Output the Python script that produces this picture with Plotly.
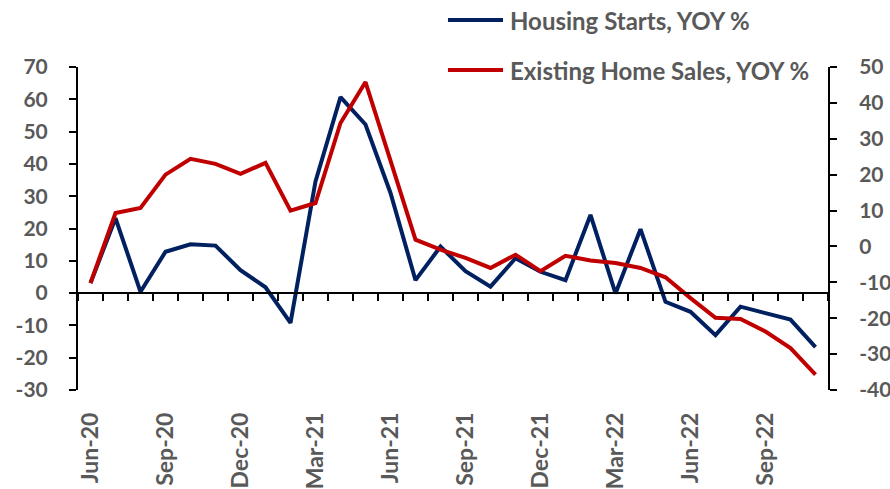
"""Housing starts vs existing home sales, YOY % (dual axis line chart)."""
import plotly.graph_objects as go

months = [
    "Jun-20", "Jul-20", "Aug-20", "Sep-20", "Oct-20", "Nov-20", "Dec-20", "Jan-21",
    "Feb-21", "Mar-21", "Apr-21", "May-21", "Jun-21", "Jul-21", "Aug-21", "Sep-21",
    "Oct-21", "Nov-21", "Dec-21", "Jan-22", "Feb-22", "Mar-22", "Apr-22", "May-22",
    "Jun-22", "Jul-22", "Aug-22", "Sep-22", "Oct-22", "Nov-22",
]
housing_starts = [
    3.1, 23.2, 0.4, 12.8, 15.1, 14.7, 7.1, 1.8, -9.2, 34.6,
    60.7, 52.2, 31.0, 4.0, 14.4, 6.8, 2.0, 10.8, 6.6, 4.0,
    24.2, -0.1, 19.8, -2.7, -5.8, -13.0, -4.2, -6.1, -8.2, -16.7,
]
existing_home_sales = [
    -10.2, 9.3, 10.7, 20.0, 24.4, 23.0, 20.2, 23.3, 10.0, 12.1,
    34.4, 45.8, 23.9, 1.9, -0.9, -3.2, -6.0, -2.3, -6.9, -2.6,
    -3.9, -4.6, -6.0, -8.6, -14.4, -19.9, -20.2, -23.7, -28.3, -35.7,
]
label_months = months[::3]
left_ticks = [-30, -20, -10, 0, 10, 20, 30, 40, 50, 60, 70]
right_ticks = [-40, -30, -20, -10, 0, 10, 20, 30, 40, 50]
series_names = ["Housing Starts, YOY %", "Existing Home Sales, YOY %"]

BLUE = "#002060"
RED = "#C00000"
GREY = "#595959"
FONT = dict(family="Lato", size=24, color=GREY, weight="bold")
TICK_FONT = dict(family="Lato", size=21, color=GREY, weight="bold")

fig = go.Figure()

fig.add_trace(go.Scatter(
    x=months, y=housing_starts, name=series_names[0],
    mode="lines", line=dict(color=BLUE, width=4), showlegend=False,
))
fig.add_trace(go.Scatter(
    x=months, y=existing_home_sales, name=series_names[1],
    mode="lines", line=dict(color=RED, width=4), showlegend=False,
    yaxis="y2",
))
# helper trace so the zero-line category axis gets drawn
fig.add_trace(go.Scatter(
    x=months, y=[None] * len(months), xaxis="x2",
    showlegend=False, hoverinfo="skip",
))

# legend drawn by hand (Excel style: long swatch, items far apart)
for name, color, ly in zip(series_names, [BLUE, RED], [1.1455, 0.9907]):
    fig.add_shape(type="line", xref="paper", yref="paper",
                  x0=0.4933, x1=0.5667, y0=ly, y1=ly,
                  line=dict(color=color, width=4))
    fig.add_annotation(text=name, xref="paper", yref="paper",
                       x=0.5733, y=ly, xanchor="left", yanchor="middle",
                       showarrow=False, font=FONT)

xrange = [-0.5, len(months) - 0.5]
axis_line = dict(showline=True, linecolor="black", linewidth=2,
                 ticks="outside", ticklen=7, tickwidth=2, tickcolor="black")

fig.update_layout(
    width=890, height=489,
    margin=dict(l=78, r=62, t=67, b=99),
    paper_bgcolor="white", plot_bgcolor="white",
    font=FONT,
    xaxis=dict(
        type="category", categoryarray=months, range=xrange,
        tickvals=label_months, ticks="", showline=False,
        showgrid=False, tickangle=-90, ticklabelstandoff=17,
        tickfont=dict(TICK_FONT, size=23), automargin=False,
    ),
    xaxis2=dict(
        type="category", categoryarray=months, range=xrange,
        overlaying="x", anchor="free", position=0.3,
        showticklabels=False, tickson="boundaries", dtick=1,
        showgrid=False, automargin=False, **axis_line,
    ),
    yaxis=dict(
        range=[-30, 70], tickvals=left_ticks,
        ticktext=[str(v) for v in left_ticks],
        showgrid=False, zeroline=False,
        ticklabelstandoff=17, tickfont=TICK_FONT, automargin=False,
        **axis_line,
    ),
    yaxis2=dict(
        range=[-40, 50], tickvals=right_ticks,
        ticktext=[str(v) for v in right_ticks],
        overlaying="y", side="right",
        showgrid=False, zeroline=False,
        ticklabelstandoff=18, tickfont=TICK_FONT, automargin=False,
        **axis_line,
    ),
)

# the page's default body margin would shift the figure by 8px
fig.write_html("out.html", config={"displayModeBar": False},
               post_script="document.body.style.margin='0';")
